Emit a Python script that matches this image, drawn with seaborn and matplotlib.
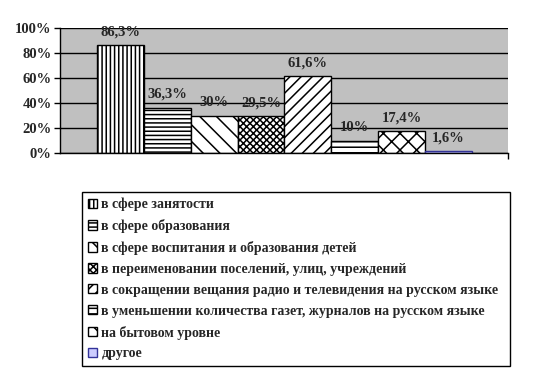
import seaborn as sns
import matplotlib.pyplot as plt
import pandas as pd

categories = [
    "в сфере занятости",
    "в сфере образования",
    "в сфере воспитания и образования детей",
    "в переименовании поселений, улиц, учреждений",
    "в сокращении вещания радио и телевидения на русском языке",
    "в уменьшении количества газет, журналов на русском языке",
    "на бытовом уровне",
    "другое",
]
values = [86.3, 36.3, 30.0, 29.5, 61.6, 10.0, 17.4, 1.6]
labels = ["86,3%", "36,3%", "30%", "29,5%", "61,6%", "10%", "17,4%", "1,6%"]
yticks = [0, 20, 40, 60, 80, 100]

hatches = ["||||", "----", "\\\\", "xxxxx", "///", "---", "xx", ""]
fills = ["white"] * 7 + ["#CCCCFF"]
edges = ["black"] * 7 + ["#333399"]

sns.set_theme(style="white")
plt.rcParams["font.family"] = ["Liberation Serif", "DejaVu Serif"]
plt.rcParams["font.weight"] = "bold"
plt.rcParams["hatch.linewidth"] = 1.1

df = pd.DataFrame({"cat": categories, "val": values})

fig = plt.figure(figsize=(5.45, 3.73), dpi=100)
ax = fig.add_axes([60 / 545, 1 - 153 / 373, 448 / 545, 125 / 373])
ax.set_facecolor("#C0C0C0")

sns.barplot(data=df, x="cat", y="val", hue="cat", palette=fills,
            width=1, edgecolor="black", linewidth=1.0, saturation=1,
            legend=False, ax=ax)

for p, h, ec in zip(ax.patches, hatches, edges):
    p.set_hatch(h)
    p.set_edgecolor(ec)

for i, (v, lab) in enumerate(zip(values, labels)):
    ax.annotate(lab, (i, v), xytext=(0, 5), textcoords="offset points",
                ha="center", va="bottom", fontsize=10.5, fontweight="bold")

ax.set_ylim(0, 100)
ax.set_xlim(-1.289, 8.268)
ax.set_yticks(yticks)
ax.set_yticklabels([f"{t}%" for t in yticks], fontsize=10.5, fontweight="bold")
ax.set_xticks([8.268])
ax.set_xticklabels([""])
ax.tick_params(axis="both", direction="out", length=4, width=1, color="black",
               left=True, bottom=True, pad=2)
ax.yaxis.grid(True, color="black", linewidth=1)
ax.set_axisbelow(True)
ax.set_xlabel("")
ax.set_ylabel("")
for s in ["top", "right"]:
    ax.spines[s].set_visible(False)
for s in ["left", "bottom"]:
    ax.spines[s].set_color("black")
    ax.spines[s].set_linewidth(1)

leg = fig.legend(ax.patches, categories, loc="upper left",
                 bbox_to_anchor=(82 / 545, 8 / 373, 428 / 545, 173 / 373),
                 mode="expand", borderaxespad=0,
                 prop={"weight": "bold", "size": 10},
                 handlelength=0.65, handleheight=0.65, handletextpad=0.35,
                 labelspacing=0.57, borderpad=0.4, fancybox=False,
                 edgecolor="black", framealpha=1)
leg.get_frame().set_linewidth(1)

fig.savefig("out.png", dpi=100)
